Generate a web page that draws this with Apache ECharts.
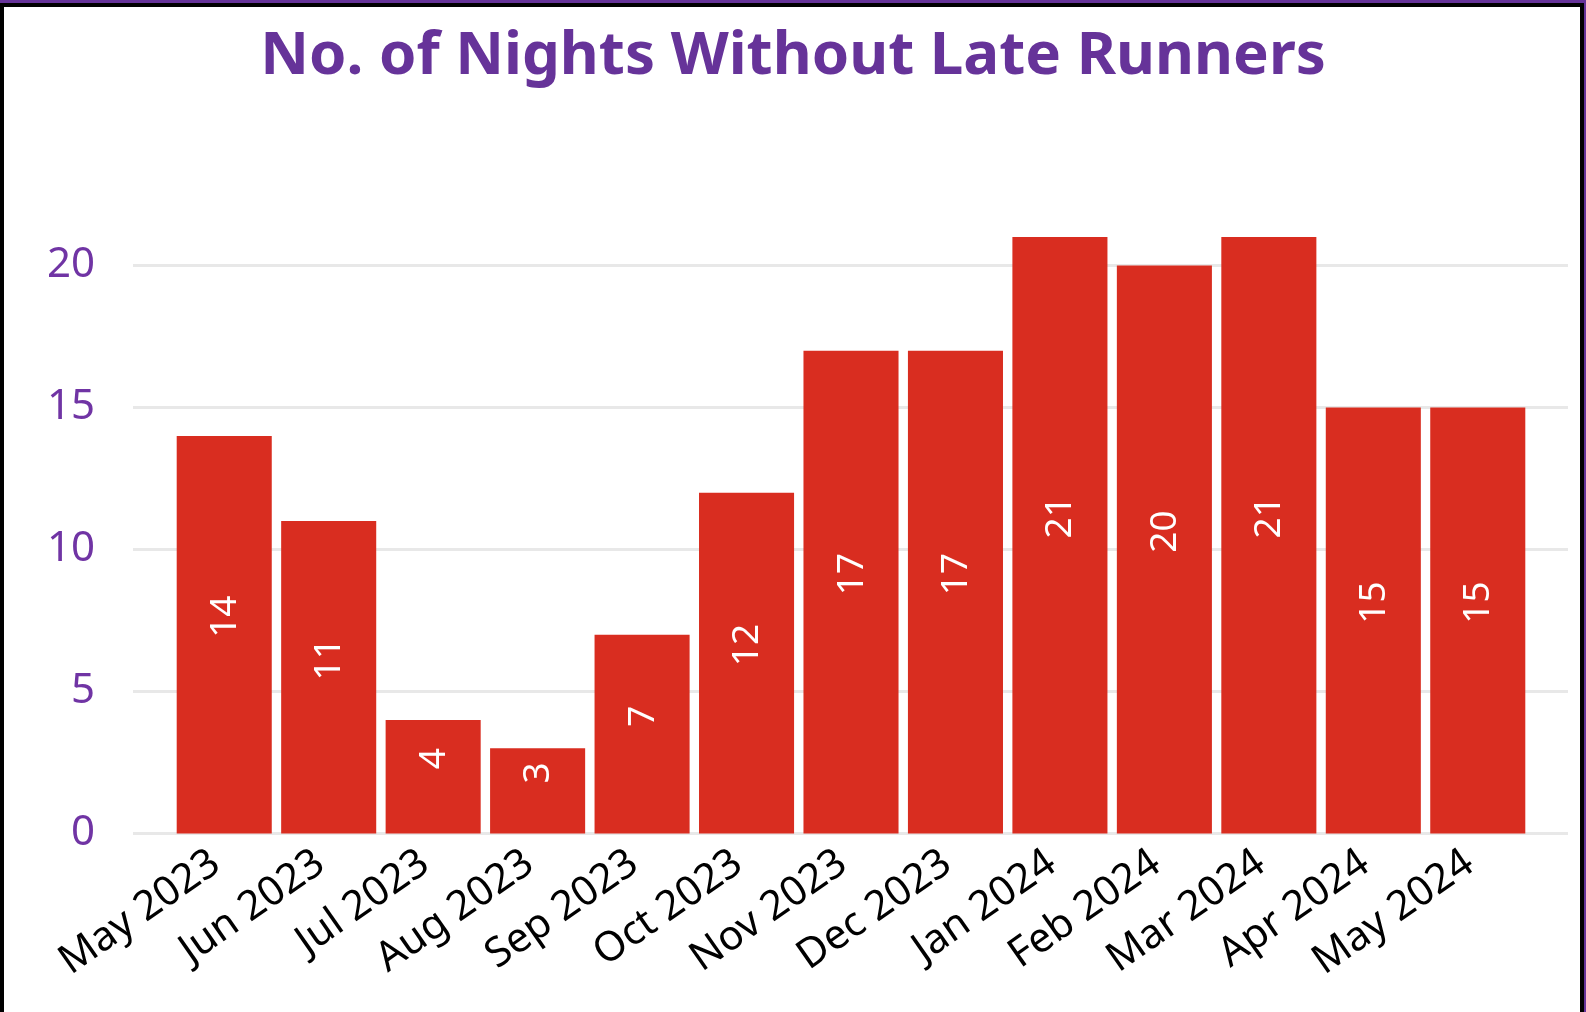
<!DOCTYPE html>
<html>
<head>
<meta charset="utf-8">
<script src="https://cdn.jsdelivr.net/npm/echarts@6/dist/echarts.min.js"></script>
<style>
  html, body { margin: 0; padding: 0; width: 1586px; height: 1012px; overflow: hidden; background: #663399; }
  #frame { position: absolute; left: 0; top: 3px; width: 1576px; height: 1020px; background: #fff;
    border-left: 4px solid #000; border-top: 4px solid #000; border-right: 4px solid #000; }
  #main { position: absolute; left: 0; top: 0; width: 1586px; height: 1012px; }
</style>
</head>
<body>
<div id="frame"></div>
<div id="main"></div>
<script>
var months = ['May 2023', 'Jun 2023', 'Jul 2023', 'Aug 2023', 'Sep 2023', 'Oct 2023', 'Nov 2023',
	'Dec 2023', 'Jan 2024', 'Feb 2024', 'Mar 2024', 'Apr 2024', 'May 2024'];
var nights = [14, 11, 4, 3, 7, 12, 17, 17, 21, 20, 21, 15, 15];
var chartTitle = 'No. of Nights Without Late Runners';

var font = 'Noto Sans';
var myChart = echarts.init(document.getElementById('main'), null, { renderer: 'canvas' });

var option = {
	animation: false,
	backgroundColor: 'transparent',
	title: {
		text: chartTitle,
		left: 'center',
		top: 22,
		textStyle: { color: '#663399', fontFamily: font, fontWeight: 'bold', fontSize: 60 }
	},
	// grid 0 only carries the y labels and the long gridlines
	grid: [
		{ left: 133, right: 18, top: 123.5, bottom: 178.5 },
		{ left: 172, right: 56, top: 123.5, bottom: 178.5 }
	],
	xAxis: [
		{ type: 'value', gridIndex: 0, show: false },
		{
			type: 'category', gridIndex: 1, data: months,
			axisLine: { show: false }, axisTick: { show: false },
			axisLabel: { rotate: 35, margin: 20, padding: [0, 10, 0, 0], color: '#000', fontFamily: font, fontSize: 41, interval: 0 }
		}
	],
	yAxis: [
		{
			type: 'value', gridIndex: 0, min: 0, max: 25, interval: 5,
			axisLine: { show: false }, axisTick: { show: false },
			axisLabel: { margin: 38, color: '#7034a4', fontFamily: font, fontSize: 42, showMaxLabel: false },
			splitLine: { show: true, showMaxLine: false, lineStyle: { color: '#e8e8e8', width: 3 } }
		},
		{ type: 'value', gridIndex: 1, min: 0, max: 25, show: false, splitLine: { show: false } }
	],
	series: [
		{
			name: 'Nights',
			type: 'bar',
			xAxisIndex: 1,
			yAxisIndex: 1,
			data: nights,
			barCategoryGap: '9%',
			itemStyle: { color: '#d92d20' },
			label: {
				show: true,
				position: 'inside',
				rotate: 90,
				offset: [18, 1],
				color: '#fff',
				fontFamily: font,
				fontSize: 37
			}
		}
	]
};
myChart.setOption(option);
</script>
</body>
</html>
